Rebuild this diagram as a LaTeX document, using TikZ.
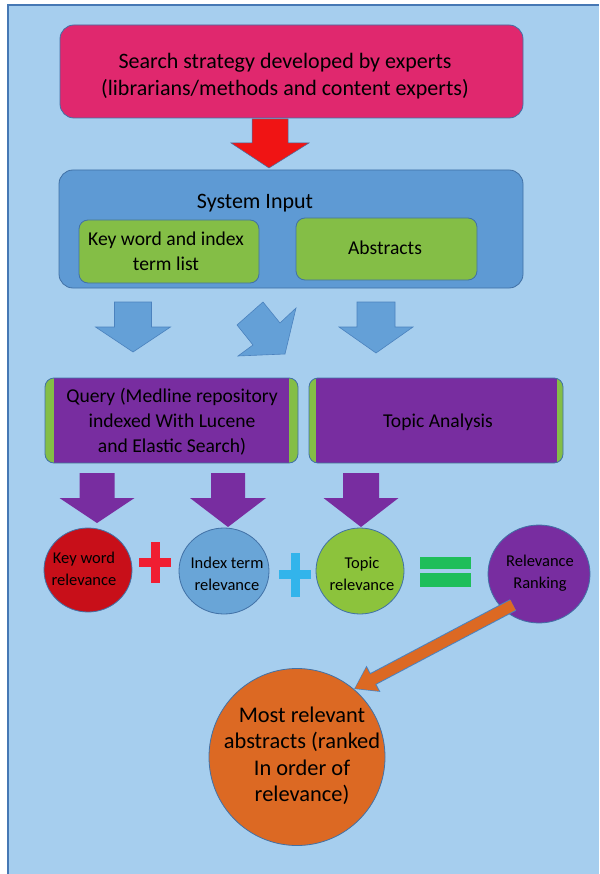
\documentclass[tikz,border=0pt]{standalone}
\usepackage{fontspec}
\setmainfont{Carlito}
\usetikzlibrary{arrows.meta,shapes.geometric}
\definecolor{bgblue}{RGB}{166,206,238}
\definecolor{bgborder}{RGB}{70,120,180}
\definecolor{pinkc}{RGB}{224,40,110}
\definecolor{sysblue}{RGB}{94,154,212}
\definecolor{sysborder}{RGB}{65,113,166}
\definecolor{greenc}{RGB}{132,190,70}
\definecolor{redarrow}{RGB}{240,20,20}
\definecolor{barrowfill}{RGB}{100,160,215}
\definecolor{barrowline}{RGB}{75,130,190}
\definecolor{purplec}{RGB}{120,45,160}
\definecolor{redcirc}{RGB}{200,15,25}
\definecolor{bluecirc}{RGB}{105,165,215}
\definecolor{greencirc}{RGB}{140,195,60}
\definecolor{orangec}{RGB}{220,105,35}
\definecolor{plusred}{RGB}{240,30,50}
\definecolor{pluscyan}{RGB}{50,180,235}
\definecolor{eqgreen}{RGB}{30,190,90}
\begin{document}
\begin{tikzpicture}[x=1pt,y=-1pt,
  txt/.style={align=center,text=black,inner sep=0pt},
  big/.style={txt,font=\fontsize{22}{27}\selectfont},
  mid/.style={txt,font=\fontsize{19.6}{25}\selectfont},
  small/.style={txt,font=\fontsize{16.5}{22}\selectfont},
  obig/.style={txt,font=\fontsize{22.4}{26.5}\selectfont},
  boxshape/.style={draw=sysborder,line width=0.8pt,rounded corners=14pt,inner sep=0pt},
  greenbox/.style={boxshape,fill=greenc,rounded corners=9pt},
  circ/.style={ellipse,draw=sysborder,line width=0.8pt,inner sep=0pt},
  barrow/.style={fill=barrowfill,draw=barrowline,line width=0.6pt},
  parrow/.style={fill=purplec},
]
\useasboundingbox (0,0) rectangle (599,874);
% background
\fill[bgblue] (8,5) rectangle (599,874);
\draw[bgborder,line width=1.5pt] (8,874) -- (8,5) -- (599,5);

% top box
\node[boxshape,fill=pinkc,minimum width=463pt,minimum height=93pt] (strategy) at (291.5,71.5) {};
\node[big] (strategytxt) at (285,76) {Search strategy developed by experts\\(librarians/methods and content experts)};

% red arrow
\filldraw[fill=redarrow,draw=sysborder,line width=0.5pt] (252,119) -- (288,119) -- (288,143) -- (309,143) -- (269,168) -- (231,143) -- (252,143) -- cycle;

% system input container
\node[boxshape,fill=sysblue,minimum width=464pt,minimum height=118pt] (sys) at (291,229) {};
\node[big] (systxt) at (255,203) {System Input};
\node[greenbox,minimum width=180pt,minimum height=63pt] (kw) at (169,251.5) {};
\node[mid] (kwtxt) at (166,251) {Key word and index\\term list};
\node[greenbox,minimum width=181pt,minimum height=62pt] (abs) at (386.5,249) {};
\node[mid] (abstxt) at (385,248) {Abstracts};

% blue arrows
\draw[barrow] (114.5,302) -- (151.5,302) -- (151.5,327) -- (170.5,327) -- (133,352) -- (95.5,327) -- (114.5,327) -- cycle;
\draw[barrow] (263,302) -- (280,323) -- (296,308) -- (285,354) -- (238,356) -- (253,345) -- (237,325) -- cycle;
\draw[barrow] (357,302) -- (395,302) -- (395,327) -- (413,327) -- (376,353) -- (339,327) -- (357,327) -- cycle;

% query box
\fill[greenc,rounded corners=9pt] (45,378) rectangle (298,463);
\fill[purplec] (54,378) rectangle (289,463);
\draw[sysborder,line width=0.8pt,rounded corners=9pt] (45,378) rectangle (298,463);
\node[inner sep=0pt,minimum width=253pt,minimum height=85pt] (query) at (171.5,420.5) {};
\node[mid] (querytxt) at (172,422) {Query (Medline repository\\indexed With Lucene\\and Elastic Search)};

% topic analysis box
\fill[greenc,rounded corners=9pt] (309,378) rectangle (563,463);
\fill[purplec] (316,378) rectangle (557,463);
\draw[sysborder,line width=0.8pt,rounded corners=9pt] (309,378) rectangle (563,463);
\node[inner sep=0pt,minimum width=254pt,minimum height=85pt] (topic) at (436,420.5) {};
\node[mid] (topictxt) at (438,422) {Topic Analysis};

% purple arrows
\fill[parrow] (79.5,473) -- (114.5,473) -- (114.5,498) -- (134.5,498) -- (97,523) -- (59.5,498) -- (79.5,498) -- cycle;
\fill[parrow] (211,473) -- (245,473) -- (245,498) -- (266,498) -- (228,527) -- (190,498) -- (211,498) -- cycle;
\fill[parrow] (343,473) -- (379,473) -- (379,498) -- (398.5,498) -- (361,527) -- (323.5,498) -- (343,498) -- cycle;

% circles
\node[circ,fill=redcirc,minimum width=88pt,minimum height=84pt] (kwrel) at (88,570) {};
\node[small] at (84,569) {Key word\\relevance};
\node[circ,fill=bluecirc,minimum width=90pt,minimum height=86pt] (idxrel) at (224,571) {};
\node[small] at (227,574) {Index term\\relevance};
\node[circ,fill=greencirc,minimum width=88pt,minimum height=86pt] (toprel) at (360,571) {};
\node[small] at (362,574) {Topic\\relevance};
\node[circ,fill=purplec,minimum width=102pt,minimum height=98pt] (rank) at (539,574) {};
\node[small] at (540,573) {Relevance\\Ranking};

% plus signs and equals
\fill[plusred] (150.5,542) rectangle (159.5,583);
\fill[plusred] (139,558) rectangle (171,567);
\fill[pluscyan] (290.5,553) rectangle (299.5,597);
\fill[pluscyan] (279,570) rectangle (311,579);
\fill[eqgreen] (420,557) rectangle (471,569);
\fill[eqgreen] (420,573) rectangle (471,587);

% final circle
\node[circ,fill=orangec,minimum width=176pt,minimum height=177pt] (most) at (297,757) {};
\node[obig] at (302,756) {Most relevant\\abstracts (ranked\\In order of\\relevance)};

% orange arrow
\coordinate (oastart) at (513,605);
\draw[barrowline,line width=13pt,-{Triangle[width=28pt,length=22pt]}] (oastart) -- (most.50);
\draw[orangec,line width=11pt,-{Triangle[width=25pt,length=20pt]},shorten >=1pt] (oastart) -- (most.50);
\end{tikzpicture}
\end{document}
